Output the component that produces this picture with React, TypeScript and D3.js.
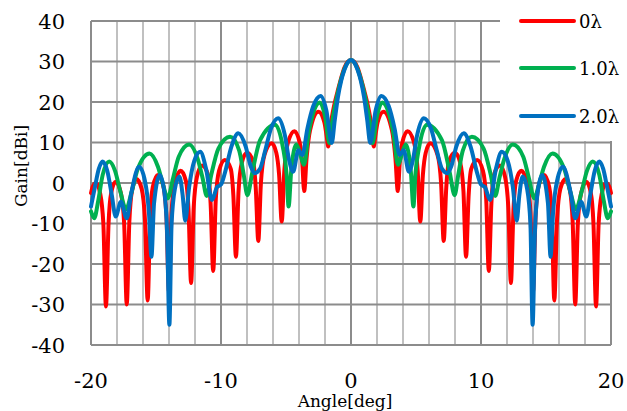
import React from "react";
import * as d3 from "d3";

type P = [number, number];

const xTicks = [-20, -10, 0, 10, 20];
const yTicks = [-40, -30, -20, -10, 0, 10, 20, 30, 40];
const seriesNames = ["0λ", "1.0λ", "2.0λ"];
const seriesColors = ["#FF0000", "#00B050", "#0070C0"];

const red: P[] = [
  [-20, -2.5], [-19.85, -0.8], [-19.6, 0.0], [-19.3, -2.5], [-19.05, -10], [-18.85, -30.5], [-18.65, -10], [-18.45, -2.5],
  [-18.1, 0.3], [-17.7, -2.5], [-17.45, -10], [-17.25, -30], [-17.05, -9.5], [-16.85, -2], [-16.5, 1.0], [-16.1, -1.5],
  [-15.85, -9], [-15.64, -29], [-15.45, -8.5], [-15.25, -1], [-14.85, 2.0], [-14.45, -0.5], [-14.2, -8], [-14.0, -27],
  [-13.8, -7], [-13.55, 0], [-13.1, 3.0], [-12.7, 0.5], [-12.5, -6.5], [-12.3, -24.7], [-12.1, -6], [-11.85, 1.5],
  [-11.45, 4.3], [-11.0, 2], [-10.8, -5], [-10.6, -21.7], [-10.4, -4], [-10.15, 3], [-9.7, 5.7], [-9.25, 3.5],
  [-9.05, -3], [-8.85, -18.2], [-8.65, -2], [-8.4, 5], [-8.0, 7.5], [-7.55, 5.5], [-7.33, -1], [-7.13, -14.3],
  [-6.93, 0], [-6.65, 7], [-6.1, 9.8], [-5.75, 7.5], [-5.53, 2], [-5.33, -9.5], [-5.13, 3], [-4.85, 10],
  [-4.35, 12.8], [-3.95, 10], [-3.75, 5], [-3.6, -2.0], [-3.42, 6], [-3.15, 13], [-2.5, 17.6], [-2.05, 15],
  [-1.87, 11.5], [-1.75, 9.0], [-1.6, 13.5], [-1.4, 17.5], [-1.2, 20.5], [-1.0, 23.0], [-0.75, 26.0], [-0.5, 28.5],
  [-0.25, 29.9], [0, 30.4],
  [0.25, 29.9], [0.5, 28.5], [0.75, 26.0], [1.0, 23.0], [1.2, 20.5], [1.4, 17.5], [1.6, 13.5], [1.75, 9.0],
  [1.87, 11.5], [2.05, 15], [2.5, 17.6], [3.15, 13], [3.42, 6], [3.6, -2.0], [3.75, 5], [3.95, 10],
  [4.35, 12.8], [4.85, 10], [5.13, 3], [5.33, -9.5], [5.53, 2], [5.75, 7.5], [6.1, 9.8], [6.65, 7],
  [6.93, 0], [7.13, -14.3], [7.33, -1], [7.55, 5.5], [8.0, 7.5], [8.4, 5], [8.65, -2], [8.85, -18.2],
  [9.05, -3], [9.25, 3.5], [9.7, 5.7], [10.15, 3], [10.4, -4], [10.6, -21.7], [10.8, -5], [11.0, 2],
  [11.45, 4.3], [11.85, 1.5], [12.1, -6], [12.3, -24.7], [12.5, -6.5], [12.7, 0.5], [13.1, 3.0], [13.55, 0],
  [13.8, -7], [14.0, -27], [14.2, -8], [14.45, -0.5], [14.85, 2.0], [15.25, -1], [15.45, -8.5], [15.64, -29],
  [15.85, -9], [16.1, -1.5], [16.5, 1.0], [16.85, -2], [17.05, -9.5], [17.25, -30], [17.45, -10], [17.7, -2.5],
  [18.1, 0.3], [18.45, -2.5], [18.65, -10], [18.85, -30.5], [19.05, -10], [19.3, -2.5], [19.6, 0.0], [19.85, -0.8],
  [20, -2.5],
];

const green: P[] = [
  [-20, -7.0], [-19.75, -8.7], [-19.45, -4.5], [-19.1, 2], [-18.6, 5.3], [-18.15, 3], [-17.75, -2], [-17.3, -6.5],
  [-16.9, -2.5], [-16.4, 3.5], [-15.5, 7.3], [-14.85, 4], [-14.45, -0.5], [-14.1, -3.8], [-13.7, 1], [-13.25, 6.5],
  [-12.45, 9.5], [-11.8, 6], [-11.4, 1], [-11.1, -3.2], [-10.75, 2], [-10.2, 8.5], [-9.3, 11.4], [-8.6, 8],
  [-8.25, 2], [-7.97, -3.0], [-7.6, 2.5], [-7.0, 10.5], [-5.85, 14.4], [-5.25, 9], [-4.95, 2], [-4.8, -5.8],
  [-4.6, 3], [-4.2, 9.5], [-3.9, 7], [-3.62, 4.5], [-3.25, 12.5], [-2.4, 19.9], [-2.0, 16.5], [-1.65, 9.8],
  [-1.45, 15], [-1.2, 19.5], [-1.0, 22.5], [-0.75, 25.7], [-0.5, 28.2], [-0.25, 29.8], [0, 30.4],
  [0.25, 29.8], [0.5, 28.2], [0.75, 25.7], [1.0, 22.5], [1.2, 19.5], [1.45, 15], [1.65, 9.8], [2.0, 16.5],
  [2.4, 19.9], [3.25, 12.5], [3.62, 4.5], [3.9, 7], [4.2, 9.5], [4.6, 3], [4.8, -5.8], [4.95, 2],
  [5.25, 9], [5.85, 14.4], [7.0, 10.5], [7.6, 2.5], [7.97, -3.0], [8.25, 2], [8.6, 8], [9.3, 11.4],
  [10.2, 8.5], [10.75, 2], [11.1, -3.2], [11.4, 1], [11.8, 6], [12.45, 9.5], [13.25, 6.5], [13.7, 1],
  [14.1, -3.8], [14.45, -0.5], [14.85, 4], [15.5, 7.3], [16.4, 3.5], [16.9, -2.5], [17.3, -6.5], [17.75, -2],
  [18.15, 3], [18.6, 5.3], [19.1, 2], [19.45, -4.5], [19.75, -8.7], [20, -7.0],
];

const blue: P[] = [
  [-20, -5.8], [-19.7, -1], [-19.4, 3.5], [-19.1, 5.3], [-18.75, 3], [-18.4, -3], [-18.1, -8.3], [-17.7, -4.6],
  [-17.25, -8.7], [-16.9, -2.5], [-16.3, 4.0], [-15.85, 0.5], [-15.55, -7], [-15.35, -18.2], [-15.15, -5], [-14.7, 2.0],
  [-14.35, -2.5], [-14.15, -12], [-13.97, -35], [-13.8, -10], [-13.55, -1.5], [-13.2, 1.6], [-12.95, -3], [-12.75, -9.3],
  [-12.45, -1], [-12.05, 5.5], [-11.6, 7.7], [-11.15, 3.5], [-10.7, -4.2], [-10.3, -1], [-10.0, -0.4], [-9.7, 2.5],
  [-9.2, 9], [-8.67, 12.3], [-8.1, 9], [-7.7, 4], [-7.4, 2.4], [-7.0, 3.5], [-6.6, 8], [-6.15, 13.5],
  [-5.6, 16.0], [-5.1, 12], [-4.75, 5.5], [-4.45, 2.8], [-4.05, 8.1], [-3.75, 6.9], [-3.35, 13.5], [-2.9, 19],
  [-2.33, 21.5], [-1.9, 18], [-1.48, 9.9], [-1.25, 15.5], [-1.0, 21.3], [-0.75, 25.3], [-0.5, 28.0], [-0.25, 29.8],
  [0, 30.4],
  [0.25, 29.8], [0.5, 28.0], [0.75, 25.3], [1.0, 21.3], [1.25, 15.5], [1.48, 9.9], [1.9, 18], [2.33, 21.5],
  [2.9, 19], [3.35, 13.5], [3.75, 6.9], [4.05, 8.1], [4.45, 2.8], [4.75, 5.5], [5.1, 12], [5.6, 16.0],
  [6.15, 13.5], [6.6, 8], [7.0, 3.5], [7.4, 2.4], [7.7, 4], [8.1, 9], [8.67, 12.3], [9.2, 9],
  [9.7, 2.5], [10.0, -0.4], [10.3, -1], [10.7, -4.2], [11.15, 3.5], [11.6, 7.7], [12.05, 5.5], [12.45, -1],
  [12.75, -9.3], [12.95, -3], [13.2, 1.6], [13.55, -1.5], [13.8, -10], [13.97, -35], [14.15, -12], [14.35, -2.5],
  [14.7, 2.0], [15.15, -5], [15.35, -18.2], [15.55, -7], [15.85, 0.5], [16.3, 4.0], [16.9, -2.5], [17.25, -8.7],
  [17.7, -4.6], [18.1, -8.3], [18.4, -3], [18.75, 3], [19.1, 5.3], [19.4, 3.5], [19.7, -1], [20, -5.8],
];

const W = 627;
const H = 411;
const FONT = "'DejaVu Serif', serif";

export default function App() {
  const x = d3.scaleLinear().domain([-20, 20]).range([91, 611]);
  const y = d3.scaleLinear().domain([-40, 40]).range([345, 21]);
  const line = d3
    .line<P>()
    .x((d) => x(d[0]))
    .y((d) => y(d[1]))
    .curve(d3.curveMonotoneX);
  const series = [red, green, blue];
  const vGrid = d3.range(-20, 21, 2);
  const legendY = [21, 68, 116];

  return (
    <svg width={W} height={H} style={{ position: "absolute", left: 0, top: 0, background: "#fff" }}>
      <rect x={0} y={0} width={W} height={H} fill="#fff" />
      {vGrid.filter((v) => v % 10 !== 0).map((v) => (
        <line key={"vm" + v} x1={x(v)} x2={x(v)} y1={y(40)} y2={y(-40)} stroke="#C0C0C0" strokeWidth={2} />
      ))}
      {yTicks.map((v) => (
        <line key={"h" + v} x1={x(-20)} x2={x(20)} y1={y(v)} y2={y(v)} stroke="#8C8C8C" strokeWidth={2} />
      ))}
      {xTicks.map((v) => (
        <line key={"vM" + v} x1={x(v)} x2={x(v)} y1={y(40)} y2={y(-40)} stroke="#8C8C8C" strokeWidth={2} />
      ))}
      {series.map((s, i) => (
        <path key={"s" + i} d={line(s) || ""} fill="none" stroke={seriesColors[i]} strokeWidth={4}
          strokeLinejoin="round" strokeLinecap="round" />
      ))}
      <rect x={500} y={0} width={127} height={141} fill="#fff" />
      {seriesNames.map((n, i) => (
        <g key={"lg" + i}>
          <line x1={521} x2={574} y1={legendY[i]} y2={legendY[i]} stroke={seriesColors[i]} strokeWidth={4} strokeLinecap="round" />
          <text x={579} y={legendY[i] + 7} fontFamily={FONT} fontSize={18} fill="#000">{n}</text>
        </g>
      ))}
      {yTicks.map((v) => (
        <text key={"yt" + v} x={65} y={y(v) + 7.5} textAnchor="end" fontFamily={FONT} fontSize={21} fill="#000">{v}</text>
      ))}
      {xTicks.map((v) => (
        <text key={"xt" + v} x={x(v)} y={388} textAnchor="middle" fontFamily={FONT} fontSize={21} fill="#000">{v}</text>
      ))}
      <text x={345} y={407} textAnchor="middle" fontFamily={FONT} fontSize={17} fill="#000">Angle[deg]</text>
      <text transform={`translate(27,166) rotate(-90)`} textAnchor="middle" fontFamily={FONT} fontSize={17} fill="#000">Gain[dBi]</text>
    </svg>
  );
}
